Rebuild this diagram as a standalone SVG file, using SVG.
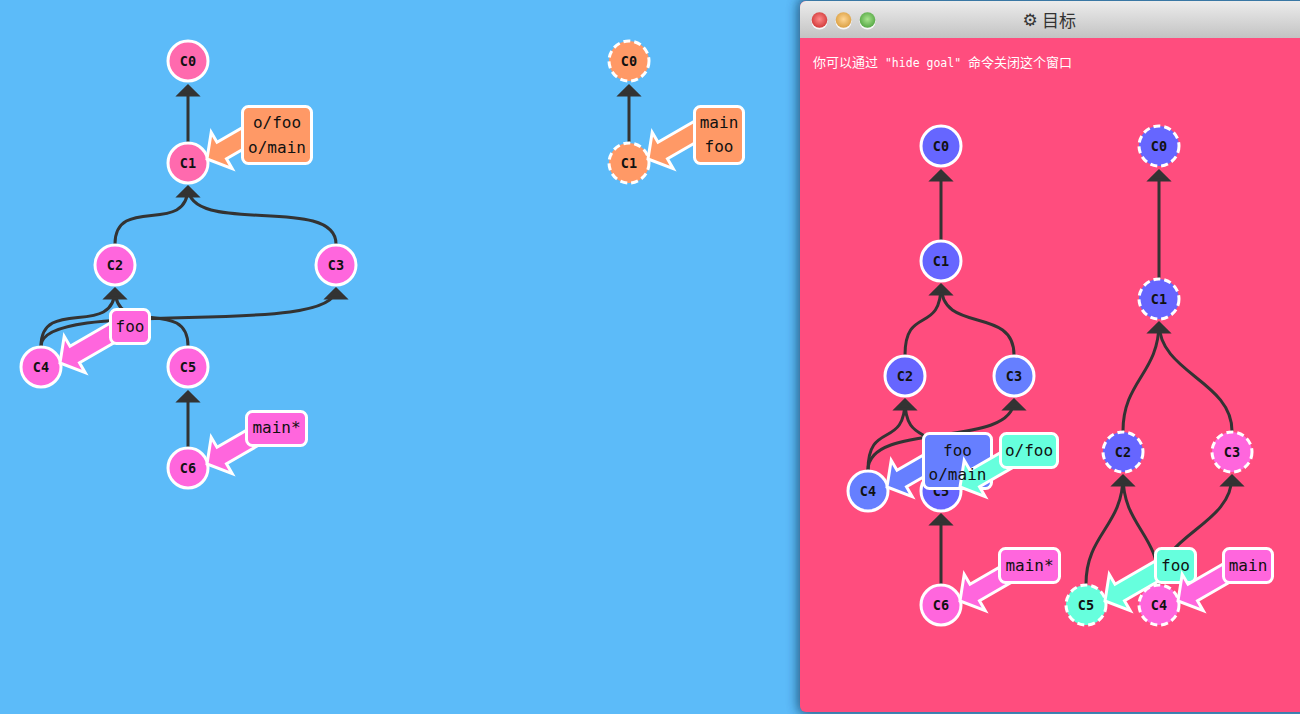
<svg xmlns="http://www.w3.org/2000/svg" width="1300" height="714" viewBox="0 0 1300 714">
<defs>
<style>
.edge{fill:none;stroke:#333;stroke-width:3}
.ah{fill:#333;stroke:#333;stroke-width:3}
.node{stroke:#fff;stroke-width:3}
.dash{stroke-dasharray:7 4}
.nt{font-family:"DejaVu Sans Mono","Liberation Mono",monospace;font-weight:bold;font-size:13.5px;fill:#111;text-anchor:middle}
.lb{stroke:#fff;stroke-width:3}
.lt{font-family:"DejaVu Sans Mono","Liberation Mono",monospace;font-size:16px;fill:#111;text-anchor:middle}
.pm{fill:#ff6aae}.pk{fill:#ff66dd}.or{fill:#ff9966}.bl{fill:#6666ff}.bl2{fill:#667fff}.cy{fill:#66ffdd}
.cjk{font-family:"Noto Sans CJK SC",sans-serif;font-size:13px}
.mono{font-family:"DejaVu Sans Mono",monospace;font-size:11.5px}
</style>
<path id="ba" d="M19,-4 L23.2,-30.7 L29,-20.7 L87,-54.2 L96.5,-37.8 L38.5,-4.3 L44.2,5.7 Z"/>
<linearGradient id="tb" x1="0" y1="0" x2="0" y2="1"><stop offset="0" stop-color="#ececec"/><stop offset="1" stop-color="#c3c3c3"/></linearGradient>
<radialGradient id="gRed" cx="0.5" cy="0.45" r="0.55"><stop offset="0" stop-color="#ff8a8a"/><stop offset="1" stop-color="#d23b3b"/></radialGradient>
<radialGradient id="gYel" cx="0.5" cy="0.45" r="0.55"><stop offset="0" stop-color="#ffd694"/><stop offset="1" stop-color="#dba043"/></radialGradient>
<radialGradient id="gGrn" cx="0.5" cy="0.45" r="0.55"><stop offset="0" stop-color="#a8e48e"/><stop offset="1" stop-color="#55a845"/></radialGradient>
<filter id="sh" x="-10%" y="-10%" width="120%" height="120%"><feGaussianBlur stdDeviation="6"/></filter>
<clipPath id="win"><rect x="800" y="1" width="520" height="711" rx="6"/></clipPath>
</defs>
<rect width="1300" height="714" fill="#5cbbf9"/>

<!-- goal window -->
<g id="goal-window">
<rect x="798" y="-2" width="520" height="716" rx="8" fill="#0b2a45" opacity="0.7" filter="url(#sh)"/>
<g clip-path="url(#win)">
<rect x="800" y="1" width="520" height="711" fill="#ff4d7e"/>
<rect x="800" y="1" width="520" height="37" fill="url(#tb)"/>
</g>
<circle cx="819.5" cy="21.5" r="8" fill="#fff" opacity="0.85"/>
<circle cx="819.5" cy="20" r="7.8" fill="url(#gRed)"/>
<circle cx="843.5" cy="21.5" r="8" fill="#fff" opacity="0.85"/>
<circle cx="843.5" cy="20" r="7.8" fill="url(#gYel)"/>
<circle cx="867.5" cy="21.5" r="8" fill="#fff" opacity="0.85"/>
<circle cx="867.5" cy="20" r="7.8" fill="url(#gGrn)"/>
<text x="1030" y="26" font-family="DejaVu Sans,sans-serif" font-size="17" font-weight="bold" fill="#333" text-anchor="middle">⚙</text>
<text x="1042" y="27" font-family="Noto Sans CJK SC,sans-serif" font-size="17" fill="#333">目标</text>
<text x="813" y="67" fill="#fff"><tspan class="cjk">你可以通过</tspan><tspan class="mono"> "hide goal" </tspan><tspan class="cjk">命令关闭这个窗口</tspan></text>
</g>

<!-- connectors -->
<g id="connectors">
<path class="edge" d="M188,142 L188,86"/>
<path class="edge" d="M115,244 C115,194 188,237 188,187"/>
<path class="edge" d="M336,244 C336,194 188,237 188,187"/>
<path class="edge" d="M41,346 C41,296 115,339 115,289"/>
<path class="edge" d="M41,346 C41,296 336,339 336,289"/>
<path class="edge" d="M188,346 C188,296 115,339 115,289"/>
<path class="edge" d="M188,447 L188,392"/>
<polygon class="ah" points="188,86 179,95 197,95"/>
<polygon class="ah" points="188,187 179,196 197,196"/>
<polygon class="ah" points="115,289 106,298 124,298"/>
<polygon class="ah" points="336,289 327,298 345,298"/>
<polygon class="ah" points="188,392 179,401 197,401"/>

<path class="edge" d="M629,142 L629,86"/>
<polygon class="ah" points="629,86 620,95 638,95"/>

<path class="edge" d="M941,240 L941,171"/>
<path class="edge" d="M905,355 C905,305 941,335 941,285"/>
<path class="edge" d="M1014,355 C1014,305 941,335 941,285"/>
<path class="edge" d="M868,470 C868,420 905,450 905,400"/>
<path class="edge" d="M868,470 C868,420 1014,450 1014,400"/>
<path class="edge" d="M941,470 C941,420 905,450 905,400"/>
<path class="edge" d="M941,584 L941,515"/>
<polygon class="ah" points="941,171 932,180 950,180"/>
<polygon class="ah" points="941,285 932,294 950,294"/>
<polygon class="ah" points="905,400 896,409 914,409"/>
<polygon class="ah" points="1014,400 1005,409 1023,409"/>
<polygon class="ah" points="941,515 932,524 950,524"/>

<path class="edge" d="M1159,278 L1159,171"/>
<path class="edge" d="M1123,431 C1123,381 1159,373 1159,323"/>
<path class="edge" d="M1232,431 C1232,381 1159,373 1159,323"/>
<path class="edge" d="M1086,584 C1086,534 1123,526 1123,476"/>
<path class="edge" d="M1159,584 C1159,534 1123,526 1123,476"/>
<path class="edge" d="M1159,584 C1159,534 1232,526 1232,476"/>
<polygon class="ah" points="1159,171 1150,180 1168,180"/>
<polygon class="ah" points="1159,323 1150,332 1168,332"/>
<polygon class="ah" points="1123,476 1114,485 1132,485"/>
<polygon class="ah" points="1232,476 1223,485 1241,485"/>
</g>

<!-- local repo nodes -->
<g id="C0"><circle class="node pm" cx="188" cy="61" r="20"/><text class="nt" x="188" y="65.5">C0</text></g>
<g id="C1"><circle class="node pm" cx="188" cy="163" r="20"/><text class="nt" x="188" y="167.5">C1</text></g>
<g id="C2"><circle class="node pk" cx="115" cy="265" r="20"/><text class="nt" x="115" y="269.5">C2</text></g>
<g id="C3"><circle class="node pk" cx="336" cy="265" r="20"/><text class="nt" x="336" y="269.5">C3</text></g>
<g id="C4"><circle class="node pk" cx="41" cy="367" r="20"/><text class="nt" x="41" y="371.5">C4</text></g>
<g id="C5"><circle class="node pk" cx="188" cy="367" r="20"/><text class="nt" x="188" y="371.5">C5</text></g>
<g id="C6"><circle class="node pk" cx="188" cy="468" r="20"/><text class="nt" x="188" y="472.5">C6</text></g>

<!-- remote repo nodes -->
<g id="o-C0"><circle class="node dash or" cx="629" cy="61" r="20"/><text class="nt" x="629" y="65.5">C0</text></g>
<g id="o-C1"><circle class="node dash or" cx="629" cy="163" r="20"/><text class="nt" x="629" y="167.5">C1</text></g>

<!-- goal local nodes -->
<g id="g-C0"><circle class="node bl" cx="941" cy="146" r="20"/><text class="nt" x="941" y="150.5">C0</text></g>
<g id="g-C1"><circle class="node bl" cx="941" cy="261" r="20"/><text class="nt" x="941" y="265.5">C1</text></g>
<g id="g-C2"><circle class="node bl" cx="905" cy="376" r="20"/><text class="nt" x="905" y="380.5">C2</text></g>
<g id="g-C3"><circle class="node bl2" cx="1014" cy="376" r="20"/><text class="nt" x="1014" y="380.5">C3</text></g>
<g id="g-C4"><circle class="node bl2" cx="868" cy="491" r="20"/><text class="nt" x="868" y="495.5">C4</text></g>
<g id="g-C5"><circle class="node bl" cx="941" cy="491" r="20"/><text class="nt" x="941" y="495.5">C5</text></g>
<g id="g-C6"><circle class="node pk" cx="941" cy="605" r="20"/><text class="nt" x="941" y="609.5">C6</text></g>

<!-- goal remote nodes -->
<g id="go-C0"><circle class="node dash bl" cx="1159" cy="146" r="20"/><text class="nt" x="1159" y="150.5">C0</text></g>
<g id="go-C1"><circle class="node dash bl" cx="1159" cy="299" r="20"/><text class="nt" x="1159" y="303.5">C1</text></g>
<g id="go-C2"><circle class="node dash bl" cx="1123" cy="452" r="20"/><text class="nt" x="1123" y="456.5">C2</text></g>
<g id="go-C3"><circle class="node dash pk" cx="1232" cy="452" r="20"/><text class="nt" x="1232" y="456.5">C3</text></g>
<g id="go-C5"><circle class="node dash cy" cx="1086" cy="605" r="20"/><text class="nt" x="1086" y="609.5">C5</text></g>
<g id="go-C4"><circle class="node dash pk" cx="1159" cy="605" r="20"/><text class="nt" x="1159" y="609.5">C4</text></g>

<!-- branch labels -->
<g id="b-ofoo-omain"><use href="#ba" x="188" y="163" class="lb or"/><rect class="lb or" x="242.5" y="106.5" width="69" height="57" rx="6"/></g>
<g id="b-foo"><use href="#ba" x="41" y="367" class="lb pk"/><rect class="lb pk" x="110.5" y="309.5" width="39" height="34" rx="6"/></g>
<g id="b-main"><use href="#ba" x="188" y="468" class="lb pk"/><rect class="lb pk" x="246.5" y="411.5" width="60" height="34" rx="6"/></g>
<g id="ob-main-foo"><use href="#ba" x="629" y="163" class="lb or"/><rect class="lb or" x="694.5" y="106.5" width="49" height="57" rx="6"/></g>
<g id="gb-foo-omain"><use href="#ba" x="868" y="491" class="lb bl2"/><rect class="lb bl2" x="923.5" y="433.5" width="68" height="55" rx="6"/></g>
<g id="gb-ofoo"><use href="#ba" x="941" y="491" class="lb cy"/><rect class="lb cy" x="1000.5" y="433.5" width="57" height="34" rx="6"/></g>
<g id="gb-main"><use href="#ba" x="941" y="605" class="lb pk"/><rect class="lb pk" x="999.5" y="548.5" width="60" height="34" rx="6"/></g>
<g id="gob-foo"><use href="#ba" x="1086" y="605" class="lb cy"/><rect class="lb cy" x="1155.5" y="548.5" width="40" height="34" rx="6"/></g>
<g id="gob-main"><use href="#ba" x="1159" y="605" class="lb pk"/><rect class="lb pk" x="1223.5" y="548.5" width="49" height="34" rx="6"/></g>

<g id="label-texts">
<text class="lt" x="277" y="128">o/foo</text><text class="lt" x="277" y="153">o/main</text>
<text class="lt" x="130" y="332">foo</text>
<text class="lt" x="276.5" y="433">main*</text>
<text class="lt" x="719" y="128">main</text><text class="lt" x="719" y="152">foo</text>
<text class="lt" x="957.5" y="456">foo</text><text class="lt" x="957.5" y="480">o/main</text>
<text class="lt" x="1029" y="456">o/foo</text>
<text class="lt" x="1029.5" y="571">main*</text>
<text class="lt" x="1175.5" y="571">foo</text>
<text class="lt" x="1248" y="571">main</text>
</g>
</svg>
